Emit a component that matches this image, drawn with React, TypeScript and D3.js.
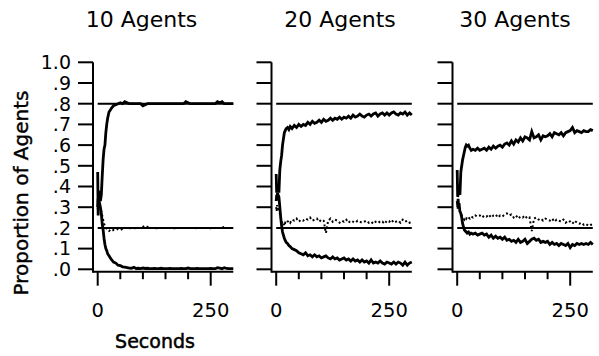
import React from "react";
import * as d3 from "d3";

const TIMES = [0,1,2,3,4,6,8,10,12,14,16,18,20,22,25,28,31,35,40,45,50,55,60,
65,70,75,80,85,90,95,100,105,110,115,120,125,130,135,140,145,150,155,160,165,170,175,180,185,190,195,200,205,210,215,220,225,230,235,240,245,250,255,260,265,270,275,280,285,290,295,300];

const PANEL_TITLES = ["10 Agents", "20 Agents", "30 Agents"];
const REFERENCE_LEVELS = [0.8, 0.2];
const Y_TICKS = [0,0.1,0.2,0.3,0.4,0.5,0.6,0.7,0.8,0.9,1.0];
const Y_TICK_LABELS = [".0",".1",".2",".3",".4",".5",".6",".7",".8",".9","1.0"];
const X_MAJOR_TICKS = [0, 250];
const X_MINOR_TICKS = [50, 100, 150, 200];

// 10 agents
const rise10 = [.47,.26,.38,.33,.35,.33,.36,.45,.53,.58,.60,.66,.70,.73,.76,.77,.78,.79,.795,.80,.805,.80,.81,
.805,.80,.80,.80,.80,.80,.80,.79,.795,.80,.80,.80,.80,.80,.80,.80,.80,.80,.80,.80,.80,.80,.80,.80,.80,.80,.81,.805,.80,.80,.80,.80,.80,.80,.80,.80,.80,.80,.80,.80,.81,.805,.81,.80,.80,.80,.80,.80];
const fall10 = [.30,.34,.31,.33,.32,.30,.27,.22,.19,.15,.12,.10,.09,.075,.065,.055,.045,.035,.03,.02,.018,.012,.01,
.008,.006,.005,.01,.004,.005,.003,.006,.004,.005,.003,.003,.004,.003,.003,.005,.003,.003,.003,.004,.003,.003,.003,.003,.004,.003,.003,.006,.003,.003,.003,.004,.003,.003,.003,.003,.003,.004,.003,.003,.008,.006,.003,.008,.004,.003,.003,.003];
const dot10 = [.29,.31,.30,.32,.30,.29,.28,.26,.24,.22,.21,.20,.195,.19,.185,.19,.185,.19,.19,.195,.19,.195,.20,
.20,.198,.20,.20,.198,.20,.20,.205,.21,.205,.20,.20,.20,.198,.20,.20,.20,.20,.20,.20,.20,.198,.20,.20,.20,.20,.20,.20,.20,.20,.198,.20,.20,.20,.20,.20,.20,.198,.20,.20,.20,.20,.20,.205,.20,.20,.20,.20];

// 20 agents
const rise20 = [.46,.37,.40,.38,.41,.37,.48,.52,.55,.60,.63,.66,.67,.68,.685,.675,.69,.68,.695,.685,.70,.69,.70,
.695,.71,.70,.715,.705,.71,.72,.71,.725,.715,.72,.73,.72,.73,.725,.735,.725,.735,.73,.74,.73,.745,.735,.74,.75,.74,.735,.745,.75,.74,.75,.755,.74,.75,.755,.745,.755,.745,.755,.76,.75,.745,.755,.75,.76,.745,.755,.745];
const fall20 = [.33,.36,.35,.37,.36,.35,.30,.25,.21,.18,.165,.15,.14,.13,.125,.115,.11,.10,.095,.09,.08,.075,.07,
.08,.065,.07,.06,.07,.06,.065,.055,.06,.065,.055,.05,.06,.05,.055,.045,.05,.055,.045,.05,.04,.05,.04,.045,.035,.045,.035,.04,.03,.045,.03,.035,.03,.04,.03,.025,.035,.03,.025,.035,.025,.035,.03,.02,.035,.02,.03,.035];
const dot20 = [.30,.28,.31,.29,.30,.29,.27,.25,.23,.22,.225,.21,.225,.22,.23,.235,.225,.24,.235,.245,.23,.24,.235,
.245,.24,.25,.235,.24,.245,.23,.24,.235,.175,.235,.245,.23,.24,.235,.225,.235,.23,.24,.225,.235,.23,.225,.235,.23,.225,.23,.235,.225,.23,.22,.23,.235,.225,.23,.22,.235,.23,.24,.225,.23,.235,.225,.24,.23,.235,.225,.23];

// 30 agents
const rise30 = [.48,.35,.36,.40,.37,.36,.47,.50,.53,.55,.57,.59,.60,.595,.60,.585,.575,.58,.575,.585,.575,.58,.585,
.575,.59,.58,.595,.585,.595,.60,.59,.605,.61,.60,.62,.605,.625,.615,.635,.62,.64,.635,.625,.665,.635,.64,.65,.625,.645,.64,.645,.655,.64,.66,.655,.65,.66,.645,.66,.665,.67,.685,.66,.67,.665,.66,.67,.665,.665,.675,.67];
const fall30 = [.33,.31,.34,.30,.32,.28,.27,.25,.22,.205,.19,.185,.18,.175,.18,.17,.175,.17,.175,.165,.17,.175,.165,
.17,.155,.165,.15,.16,.15,.155,.145,.155,.14,.145,.135,.14,.13,.145,.13,.135,.145,.125,.135,.145,.15,.14,.145,.13,.135,.13,.135,.12,.13,.12,.125,.115,.125,.12,.115,.125,.105,.12,.115,.125,.12,.125,.12,.125,.12,.13,.12];
const dot30 = [.31,.29,.32,.30,.29,.28,.27,.26,.25,.245,.24,.25,.245,.255,.25,.245,.255,.25,.26,.255,.26,.25,.26,
.255,.265,.25,.26,.265,.25,.26,.255,.265,.27,.26,.265,.25,.26,.245,.255,.25,.26,.245,.25,.185,.245,.25,.24,.245,.235,.245,.24,.235,.245,.23,.24,.235,.23,.24,.225,.235,.23,.22,.235,.225,.22,.225,.215,.22,.21,.215,.215];

const RISE = [rise10, rise20, rise30];
const FALL = [fall10, fall20, fall30];
const DOT = [dot10, dot20, dot30];

const PANEL_AXIS_X = [93, 271.5, 452.5];
const TITLE_X = [141.5, 340, 515];
const FONT = "'DejaVu Sans', Verdana, sans-serif";

function Panel({ i }: { i: number }) {
  const P = PANEL_AXIS_X[i];
  const x = d3.scaleLinear().domain([0, 300]).range([P + 4.7, P + 140.3]);
  const y = d3.scaleLinear().domain([0, 1]).range([269.3, 62.3]);
  const axisY = 271.7;
  const line = d3.line<number>().x((_, k) => x(TIMES[k])).y((v) => y(v));
  return (
    <g>
      <text x={TITLE_X[i]} y={27} textAnchor="middle" fontSize={22} fontFamily={FONT}>{PANEL_TITLES[i]}</text>
      <line x1={P} x2={P} y1={y(1)} y2={axisY + 1} stroke="#000" strokeWidth={2} />
      {Y_TICKS.map((t, k) => (
        <g key={k}>
          <line x1={P - 15} x2={P} y1={y(t)} y2={y(t)} stroke="#000" strokeWidth={2} />
          {i === 0 && (
            <text x={P - 22} y={y(t) + 6.8} textAnchor="end" fontSize={19} fontFamily={FONT}>{Y_TICK_LABELS[k]}</text>
          )}
        </g>
      ))}
      <line x1={P} x2={x(300)} y1={axisY} y2={axisY} stroke="#000" strokeWidth={2} />
      {X_MAJOR_TICKS.map((t) => (
        <g key={t}>
          <line x1={x(t)} x2={x(t)} y1={axisY} y2={axisY + 14} stroke="#000" strokeWidth={2} />
          <text x={x(t)} y={317} textAnchor="middle" fontSize={19.5} fontFamily={FONT}>{t}</text>
        </g>
      ))}
      {X_MINOR_TICKS.map((t) => (
        <line key={t} x1={x(t)} x2={x(t)} y1={axisY} y2={axisY + 7.5} stroke="#000" strokeWidth={2} />
      ))}
      {REFERENCE_LEVELS.map((r) => (
        <line key={r} x1={x(0)} x2={x(300)} y1={y(r)} y2={y(r)} stroke="#000" strokeWidth={2} />
      ))}
      <path d={line(DOT[i]) || ""} fill="none" stroke="#000" strokeWidth={2} strokeDasharray="2 2.5" />
      <path d={line(FALL[i]) || ""} fill="none" stroke="#000" strokeWidth={2.8} strokeLinejoin="miter" />
      <path d={line(RISE[i]) || ""} fill="none" stroke="#000" strokeWidth={2.8} strokeLinejoin="miter" />
    </g>
  );
}

export default function App() {
  return (
    <svg width={599} height={356} style={{ position: "absolute", left: 0, top: 0, background: "#fff" }}>
      <rect width={599} height={356} fill="#fff" />
      {[0, 1, 2].map((i) => <Panel key={i} i={i} />)}
      <text transform="translate(28,193) rotate(-90)" textAnchor="middle" fontSize={20} fontFamily={FONT} stroke="#000" strokeWidth={0.4}>Proportion of Agents</text>
      <text x={155} y={348} textAnchor="middle" fontSize={19} fontFamily={FONT} stroke="#000" strokeWidth={0.5}>Seconds</text>
    </svg>
  );
}
